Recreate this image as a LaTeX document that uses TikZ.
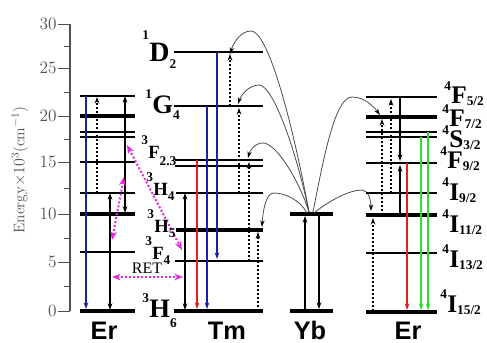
\documentclass[tikz,border=0pt]{standalone}
\usepackage{fontspec}
\usetikzlibrary{arrows.meta}
\newfontfamily\tnr{Liberation Serif}
\newfontfamily\arl{Liberation Sans}
\definecolor{mag}{RGB}{230,40,220}
\definecolor{dblue}{RGB}{30,30,160}
\definecolor{myred}{RGB}{225,30,30}
\definecolor{mygreen}{RGB}{40,225,40}
\definecolor{axgray}{RGB}{80,80,80}
% size, sup raise, sup, letter, sub raise, sub
\newcommand{\lv}[6]{{\tnr\bfseries\fontsize{#1}{#1}\selectfont\raisebox{#2}{\fontsize{10}{10}\selectfont #3}\kern0.3pt#4\raisebox{#5}{\fontsize{10}{10}\selectfont #6}}}
\begin{document}
\begin{tikzpicture}[x=0.75pt,y=-0.75pt,
  thin/.style={line width=1.1pt},
  thick/.style={line width=2.4pt},
  med/.style={line width=1.6pt},
  arr/.style={-{Stealth[length=5pt,width=3.5pt]}, line width=1pt},
  darr/.style={{Stealth[length=5pt,width=3.5pt]}-{Stealth[length=5pt,width=3.5pt]}, line width=1pt},
  dots/.style={line width=1.3pt, dash pattern=on 1.3pt off 1.7pt, -{Stealth[length=5pt,width=3.5pt]}},
  curve/.style={black!70, line width=0.6pt, -{Stealth[length=5pt,width=3.2pt,black]}},
  ret/.style={mag, line width=1.5pt, dash pattern=on 1.5pt off 1.5pt, {Stealth[length=6.5pt,width=5pt]}-{Stealth[length=6.5pt,width=5pt]}},
  axl/.style={text=axgray, font=\fontsize{13}{13}\selectfont, inner sep=0pt},
  term/.style={inner sep=0pt, anchor=base west},
  ion/.style={font=\arl\bfseries\fontsize{19}{19}\selectfont, inner sep=0pt, anchor=base}
]
\useasboundingbox (0,0) rectangle (487,343);
% ---- axis
\draw[line width=0.8pt, axgray] (70,24) -- (70,311);
\foreach \y/\t in {24/30,68/25,116/20,162/15,214/10,262/5,311/0}{
  \draw[line width=0.7pt, axgray] (58,\y) -- (70,\y);
  \node[axl, anchor=east] (tick\t) at (57,\y) {\t};
}
\foreach \y in {46,92,139,188,238,286}{
  \draw[line width=0.7pt, axgray] (64,\y) -- (70,\y);
}
\node[rotate=90, text=axgray, font=\fontsize{11.5}{11.5}\selectfont] (elab) at (20,170) {Energy$\times10^{3}$(cm$^{-1}$)};

% ---- Er (left) levels
\draw[med] (80,96) -- (135,96);
\draw[thick] (80,116) -- (135,116);
\draw[thin] (80,132) -- (135,132);
\draw[thin] (80,137) -- (135,137);
\draw[thin] (80,162) -- (135,162);
\draw[thin] (80,193) -- (135,193);
\draw[thick] (80,214) -- (135,214);
\draw[thin] (80,252) -- (135,252);
\draw[thick] (80,311) -- (135,311);
% Er left arrows
\draw[arr, dblue] (86,96) -- (86,309);
\draw[dots] (97,193) -- (97,97);
\draw[darr] (110,193) -- (110,310);
\draw[darr] (125,96) -- (125,213);
% magenta
\draw[ret] (112,240) -- (124,177);
\draw[ret] (127,145) -- (182,250);
\draw[ret] (112,277) -- (183,277);
\node[font=\tnr\fontsize{12}{12}\selectfont, inner sep=0pt] (ret) at (147,268) {RET};

% ---- Tm levels
\draw[med] (174,52) -- (263,52);
\draw[med] (174,106) -- (263,106);
\draw[thin] (175,160) -- (263,160);
\draw[thin] (175,166) -- (263,166);
\draw[thin] (176,193) -- (263,193);
\draw[thick] (176,230) -- (263,230);
\draw[thin] (175,261) -- (263,261);
\draw[thick] (174,311) -- (263,311);
% Tm labels
\node[term] (d2) at (142,61) {\lv{21}{0.78em}{1}{D}{-0.25em}{2}};
\node[term] (g4) at (145,113) {\lv{20}{0.55em}{1}{G}{-0.25em}{4}};
\node[term] (f23) at (141,158) {\lv{14}{0.72em}{3}{F}{-0.4em}{2.3}};
\node[term] (h4) at (146,195) {\lv{14}{0.72em}{3}{H}{-0.3em}{4}};
\node[term] (h5) at (147,232) {\lv{14}{0.72em}{3}{H}{-0.27em}{5}};
\node[term] (f4) at (145,259) {\lv{14}{0.72em}{3}{F}{-0.3em}{4}};
\node[term] (h6) at (142,317) {\lv{20}{0.55em}{3}{H}{-0.38em}{6}};
% Tm arrows
\draw[darr] (185,193) -- (185,310);
\draw[arr, myred] (197,160) -- (197,309);
\draw[arr, dblue] (207,106) -- (207,309);
\draw[arr, dblue] (217,52) -- (217,259);
\draw[dots] (230,106) -- (230,54);
\draw[dots] (239,193) -- (239,108);
\draw[dots] (249,261) -- (249,162);
\draw[dots] (258,311) -- (258,232);

% ---- Yb
\draw[thick] (290,214) -- (333,214);
\draw[thick] (290,311) -- (333,311);
\draw[arr, line width=1.3pt] (305,311) -- (305,216);
\draw[arr, line width=1.3pt] (319,214) -- (319,309);

% ---- energy transfer curves
\draw[curve] (309,212) .. controls (292,120) and (268,31) .. (251,31) .. controls (240,31) and (233,44) .. (230,54);
\draw[curve] (309,212) .. controls (296,150) and (273,85) .. (259,85) .. controls (249,85) and (241,95) .. (238,104);
\draw[curve] (309,212) .. controls (299,180) and (276,143) .. (263,143) .. controls (255,143) and (250,150) .. (248,158);
\draw[curve] (307,213) .. controls (300,200) and (285,193) .. (274,193) .. controls (266,193) and (263,210) .. (262,227);
\draw[curve] (313,212) .. controls (325,150) and (336,97) .. (352,97) .. controls (365,97) and (374,107) .. (380,115);
\draw[curve] (314,213) .. controls (330,200) and (350,190) .. (362,190) .. controls (368,190) and (371,200) .. (371,211);

% ---- Er (right) levels
\draw[med] (366,97) -- (437,97);
\draw[thick] (366,117) -- (437,117);
\draw[thin] (366,132) -- (437,132);
\draw[thin] (366,137) -- (437,137);
\draw[med] (366,163) -- (437,163);
\draw[thin] (366,193) -- (437,193);
\draw[thick] (366,215) -- (437,215);
\draw[thin] (366,253) -- (437,253);
\draw[thick] (366,312) -- (437,312);
% Er right arrows
\draw[dots] (373,311) -- (373,218);
\draw[dots] (382,215) -- (382,119);
\draw[dots] (391,193) -- (391,99);
\draw[arr] (400,97) -- (400,161);
\draw[arr] (400,215) -- (400,165);
\draw[arr, myred] (407,163) -- (407,310);
\draw[arr, mygreen] (421,137) -- (421,310);
\draw[arr, mygreen] (428,132) -- (428,310);
% Er right labels
\node[term] (f52) at (444,103) {\lv{19}{0.48em}{4}{F}{-0.1em}{5/2}};
\node[term] (f72) at (442,126) {\lv{19}{0.48em}{4}{F}{-0.1em}{7/2}};
\node[term] (s32) at (442,147) {\lv{19}{0.48em}{4}{S}{-0.1em}{3/2}};
\node[term] (f92) at (440,168) {\lv{19}{0.48em}{4}{F}{-0.1em}{9/2}};
\node[term] (i92) at (442,200) {\lv{19}{0.52em}{4}{I}{-0.1em}{9/2}};
\node[term] (i112) at (442,232) {\lv{19}{0.52em}{4}{I}{-0.1em}{11/2}};
\node[term] (i132) at (442,267) {\lv{19}{0.52em}{4}{I}{-0.1em}{13/2}};
\node[term] (i152) at (440,312) {\lv{19}{0.52em}{4}{I}{-0.1em}{15/2}};

% ---- ion labels
\node[ion] (er1) at (104,339) {Er};
\node[ion] (tm) at (227,339) {Tm};
\node[ion] (yb) at (310,339) {Yb};
\node[ion] (er2) at (408,339) {Er};
\end{tikzpicture}
\end{document}
